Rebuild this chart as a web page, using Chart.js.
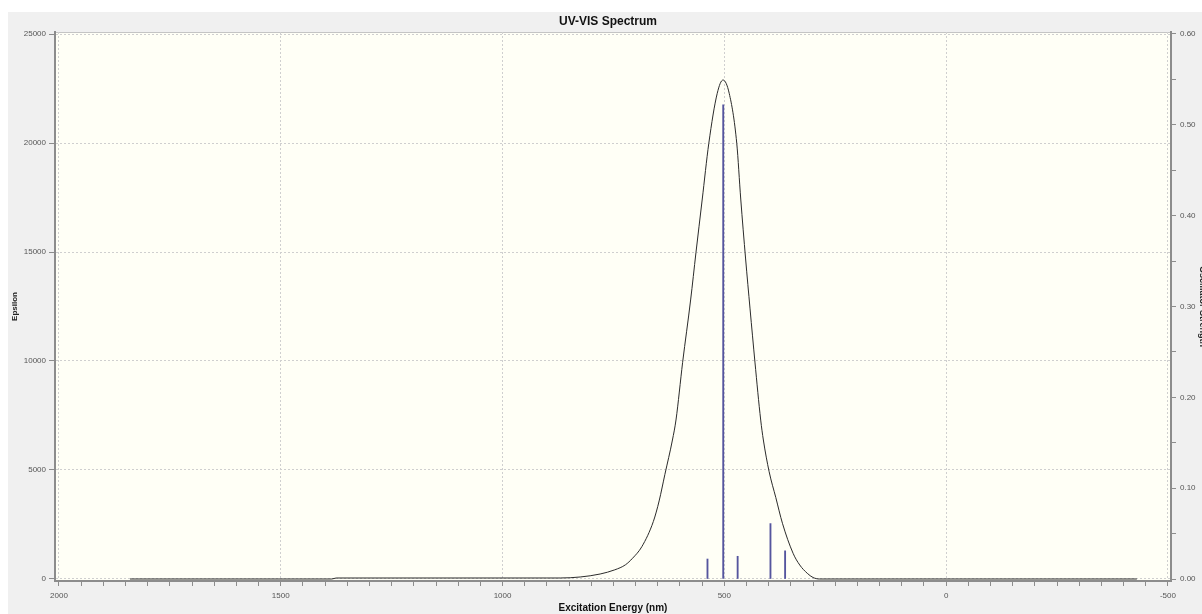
<!DOCTYPE html>
<html>
<head>
<meta charset="utf-8">
<title>UV-VIS Spectrum</title>
<script src="https://cdn.jsdelivr.net/npm/chart.js@4.4.1/dist/chart.umd.min.js"></script>
<style>
  html, body { margin: 0; padding: 0; background: #fff; overflow: hidden; }
  #wrap { position: absolute; left: 8px; top: 12px; width: 1200px; height: 602px; background: #f0f0f0; }
</style>
</head>
<body>
<div id="wrap"><canvas id="chart"></canvas></div>
<script>
// Absorption curve: wavelength (nm) and epsilon
var spectrumNm = [1840, 1385, 1375, 900, 870, 825, 780, 747, 723, 707, 686, 660, 647, 634, 617, 609, 594, 576, 564, 550, 535, 516, 503, 489, 472, 463, 452, 442, 431, 418, 412, 399, 384, 369, 345, 330, 313, 300, 285, -430];
var spectrumEps = [0, 0, 45, 46, 46, 92, 229, 420, 650, 950, 1482, 2640, 3580, 4800, 6376, 7294, 9940, 12800, 14967, 17385, 19986, 22280, 22890, 22280, 19986, 17430, 14680, 12390, 9950, 7290, 6376, 4922, 3740, 2555, 1179, 642, 261, 69, 0, 0];

// Excitations: wavelength (nm) and oscillator strength
var stickNm = [538, 502.5, 470, 396, 363];
var stickF = [0.022, 0.522, 0.025, 0.061, 0.031];

// Tick labels
var xLabels = [2000, 1500, 1000, 500, 0, -500];
var epsLabels = [0, 5000, 10000, 15000, 20000, 25000];
var fLabels = [0, 0.1, 0.2, 0.3, 0.4, 0.5, 0.6];

var font = 'Liberation Sans, Arial, sans-serif';
var gridColor = '#cfcfcf';
var axisColor = '#8c8c8c';

// Paint the ivory plot area
var plotBg = {
    id: 'plotBg',
    beforeDraw: function (chart) {
        var a = chart.chartArea, ctx = chart.ctx;
        ctx.save();
        ctx.fillStyle = '#fffff6';
        ctx.fillRect(a.left, a.top, a.right - a.left, a.bottom - a.top);
        ctx.strokeStyle = '#c4c4c4';
        ctx.lineWidth = 1;
        ctx.strokeRect(a.left + 0.5, a.top + 0.5, a.right - a.left - 1, a.bottom - a.top - 1);
        ctx.restore();
    }
};

var curve = spectrumNm.map(function (x, i) { return {x: x, y: spectrumEps[i]}; });
var sticks = stickNm.map(function (x, i) { return {x: x, y: stickF[i]}; });

var chart = new Chart(document.getElementById('chart'), {
    type: 'line',
    data: {
        datasets: [{
            label: 'Epsilon',
            data: curve,
            borderColor: '#2b2b2b',
            borderWidth: 1,
            pointRadius: 0,
            cubicInterpolationMode: 'monotone',
            yAxisID: 'y'
        }, {
            type: 'bar',
            label: 'Oscillator Strength',
            data: sticks,
            backgroundColor: '#55559e',
            barThickness: 1.2,
            yAxisID: 'y2'
        }]
    },
    options: {
        responsive: true,
        maintainAspectRatio: false,
        animation: false,
        layout: { padding: 0 },
        plugins: {
            legend: { display: false },
            tooltip: { enabled: false },
            title: {
                display: true,
                text: 'UV-VIS Spectrum',
                color: '#111',
                font: { family: font, size: 12, weight: 'bold' },
                padding: { top: 2, bottom: 3.6 }
            }
        },
        scales: {
            x: {
                type: 'linear',
                reverse: true,
                min: -507,
                max: 2009,
                offset: false,
                afterFit: function (s) { s.height = 33; },
                ticks: {
                    stepSize: 50,
                    includeBounds: false,
                    autoSkip: false,
                    maxRotation: 0,
                    padding: 5,
                    color: '#555',
                    font: { family: font, size: 8 },
                    callback: function (v) { return xLabels.indexOf(v) >= 0 ? String(v) : ''; }
                },
                grid: {
                    offset: false,
                    color: function (ctx) { return ctx.tick && xLabels.indexOf(ctx.tick.value) >= 0 ? gridColor : 'rgba(0,0,0,0)'; },
                    tickColor: axisColor,
                    tickLength: 5
                },
                border: { color: axisColor, width: 2, dash: [2, 2] },
                title: {
                    display: true,
                    text: 'Excitation Energy (nm)',
                    color: '#111',
                    font: { family: font, size: 10, weight: 'bold' },
                    padding: { top: 0, bottom: 0 }
                }
            },
            y: {
                position: 'left',
                min: -92,
                max: 25092,
                afterFit: function (s) { s.width = 47; },
                afterBuildTicks: function (s) {
                    s.ticks = epsLabels.map(function (v) { return {value: v}; });
                },
                ticks: {
                    padding: 3,
                    color: '#555',
                    font: { family: font, size: 8 },
                    callback: function (v) { return String(v); }
                },
                grid: { color: gridColor, tickColor: axisColor, tickLength: 6 },
                border: { color: axisColor, width: 2, dash: [2, 2] },
                title: {
                    display: true,
                    text: 'Epsilon',
                    color: '#222',
                    font: { family: font, size: 8, weight: 'bold' },
                    padding: { top: 2, bottom: 0 }
                }
            },
            y2: {
                position: 'right',
                min: -0.0022,
                max: 0.6022,
                afterFit: function (s) { s.width = 37; },
                ticks: {
                    stepSize: 0.05,
                    includeBounds: false,
                    padding: 4,
                    color: '#555',
                    font: { family: font, size: 8 },
                    callback: function (v) {
                        var r = Math.round(v * 100) / 100;
                        return fLabels.indexOf(r) >= 0 ? r.toFixed(2) : '';
                    }
                },
                grid: { drawOnChartArea: false, color: axisColor, tickColor: axisColor, tickLength: 5 },
                border: { color: axisColor, width: 2 },
                title: {
                    display: true,
                    text: 'Oscillator Strength',
                    color: '#222',
                    font: { family: font, size: 9, weight: 'bold' },
                    padding: { top: 0, bottom: 0 }
                }
            }
        }
    },
    plugins: [plotBg]
});
</script>
</body>
</html>
